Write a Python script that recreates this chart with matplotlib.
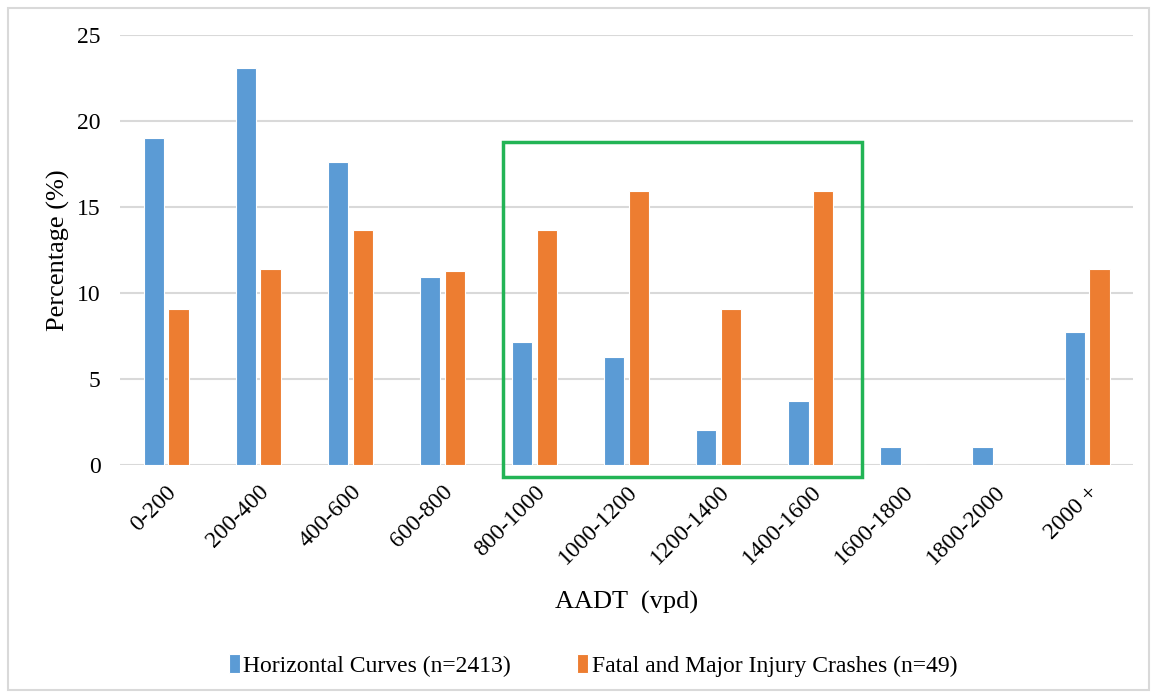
import matplotlib.pyplot as plt
from matplotlib.patches import Rectangle
import numpy as np

# AADT bins and the two percentage series
categories = ['0-200', '200-400', '400-600', '600-800', '800-1000', '1000-1200',
              '1200-1400', '1400-1600', '1600-1800', '1800-2000', '2000 +']
curves = [19.0, 23.1, 17.6, 10.9, 7.15, 6.3, 2.0, 3.7, 1.05, 1.05, 7.7]
crashes = [9.09, 11.36, 13.64, 11.25, 13.64, 15.91, 9.09, 15.91, 0, 0, 11.36]
yticks = [0, 5, 10, 15, 20, 25]

plt.rcParams['font.family'] = ['Liberation Serif', 'DejaVu Serif']

fig = plt.figure(figsize=(11.54, 6.98), dpi=100)
ax = fig.add_axes([0.104, 0.334, 0.878, 0.616])

x = np.arange(len(categories))
w = 0.22
ax.bar(x - 0.135, curves, w, color='#5b9bd5', edgecolor='white', linewidth=0.8,
       label='Horizontal Curves (n=2413)', zorder=3)
ax.bar(x + 0.135, crashes, w, color='#ed7d31', edgecolor='white', linewidth=0.8,
       label='Fatal and Major Injury Crashes (n=49)', zorder=3)

ax.set_xlim(-0.5, len(categories) - 0.5)
ax.set_ylim(0, 25)
ax.set_yticks(yticks)
ax.set_xticks(x)
ax.set_xticklabels(categories, rotation=45, ha='right', rotation_mode='anchor', fontsize=17)
ax.tick_params(axis='y', labelsize=17, length=0, pad=14)
ax.tick_params(axis='x', length=0, pad=12)
ax.grid(axis='y', color='#d9d9d9', linewidth=1.5, zorder=0)
for s in ax.spines.values():
    s.set_visible(False)

ax.set_ylabel('Percentage (%)', fontsize=19, labelpad=5)
ax.set_xlabel('AADT  (vpd)', fontsize=19, labelpad=16)

# highlight box around the 800-1600 bins
ax.add_patch(Rectangle((3.66, -0.7), 3.9, 19.5, fill=False, edgecolor='#22b455',
                       linewidth=2.5, clip_on=False, zorder=4))

fig.legend(loc='center', bbox_to_anchor=(0.514, 0.047), ncol=2, frameon=False,
           fontsize=17, handlelength=0.45, handleheight=0.9, handletextpad=0.15,
           columnspacing=2.8)

# light frame around the whole chart
fig.patches.append(Rectangle((0.007, 0.011), 0.989, 0.978, transform=fig.transFigure,
                             fill=False, edgecolor='#d9d9d9', linewidth=1.5))

fig.savefig('out.png', dpi=100)
